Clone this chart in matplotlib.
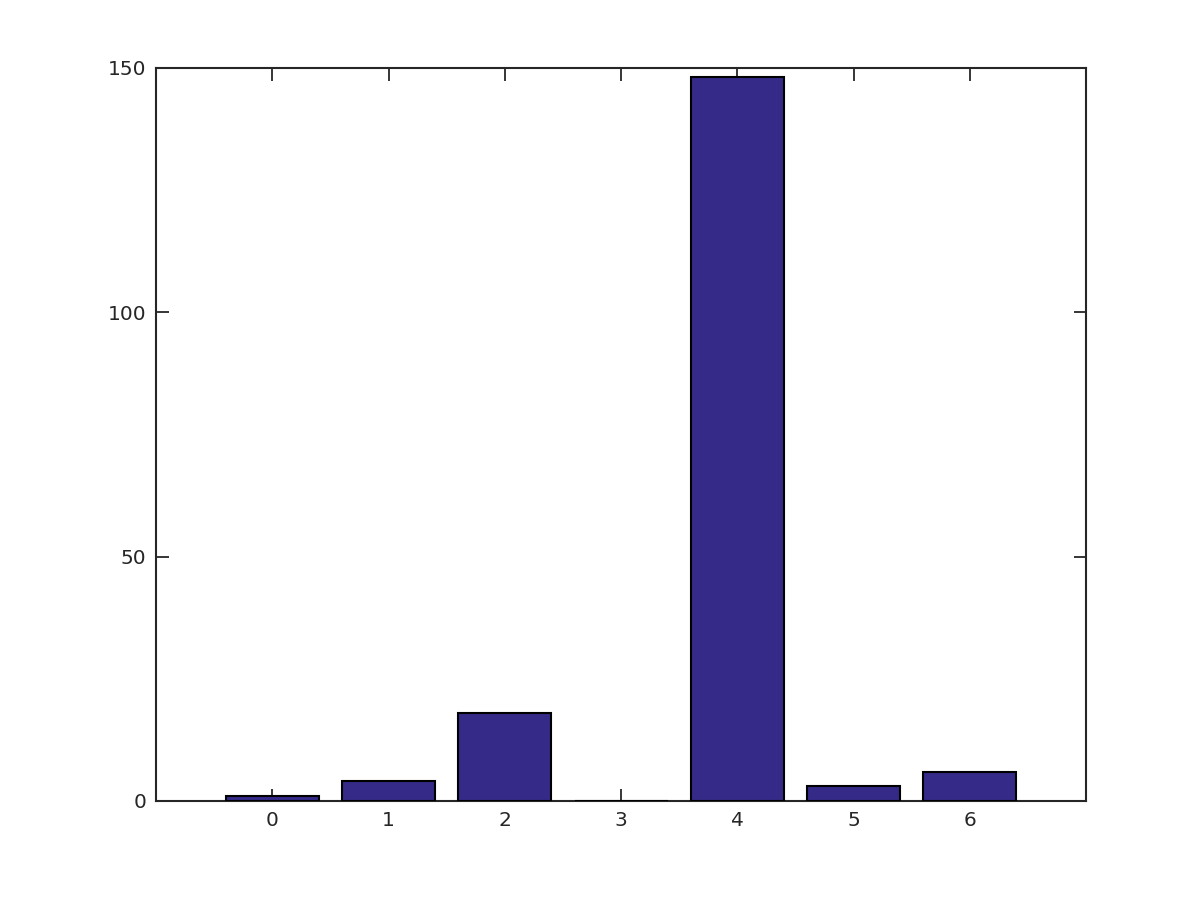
import matplotlib
matplotlib.use("Agg")
import matplotlib.pyplot as plt

categories = [0, 1, 2, 3, 4, 5, 6]
values = [1, 4, 18, 0, 148, 3, 6]
yticks = [0, 50, 100, 150]

fig = plt.figure(figsize=(12, 9), dpi=100)
ax = fig.add_axes([0.13, 0.11, 0.775, 0.815])
ax.set_axisbelow(True)
ax.bar(categories, values, width=0.8, color='#352a87', edgecolor='black',
       linewidth=1.5, zorder=3)
ax.set_xlim(-1, 7)
ax.set_ylim(0, 150)
ax.set_xticks(categories)
ax.set_yticks(yticks)
for s in ax.spines.values():
    s.set_color('#262626')
    s.set_linewidth(1.5)
ax.tick_params(direction='in', length=9, width=1.3, colors='#262626', labelsize=14.5,
               top=True, right=True, labelcolor='#262626', pad=7)
fig.savefig("out.png", dpi=100, facecolor='white')
